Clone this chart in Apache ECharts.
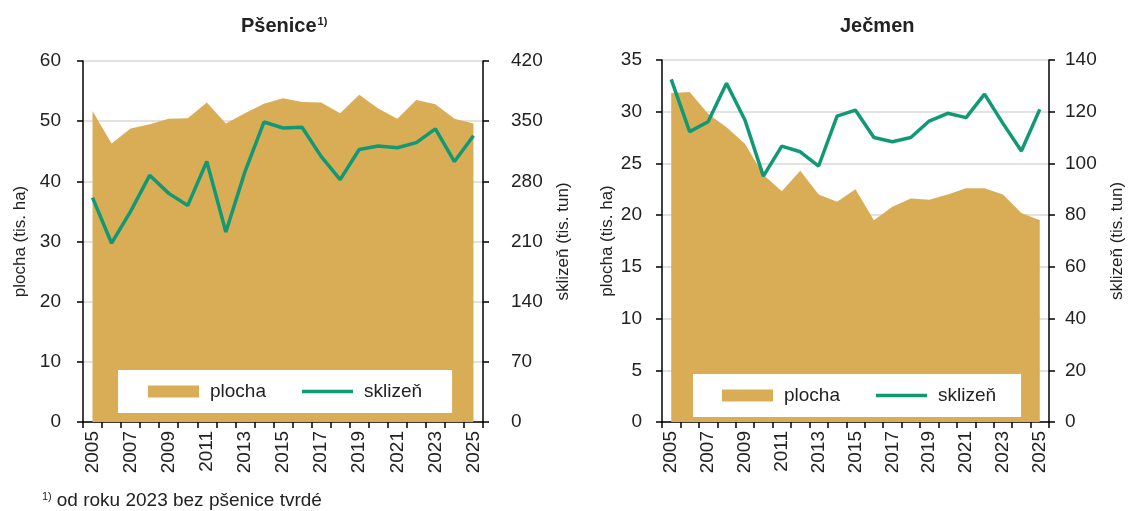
<!DOCTYPE html>
<html>
<head>
<meta charset="utf-8">
<script src="https://cdn.jsdelivr.net/npm/echarts@6/dist/echarts.min.js"></script>
<style>
html,body{margin:0;padding:0;background:#fff;}
#c{width:1131px;height:511px;}
</style>
</head>
<body>
<div id="c"></div>
<script>
const years = ['2005','2006','2007','2008','2009','2010','2011','2012','2013','2014','2015','2016','2017','2018','2019','2020','2021','2022','2023','2024','2025'];
const wheatArea = [51.7,46.3,48.8,49.5,50.4,50.5,53.1,49.6,51.3,52.9,53.8,53.2,53.1,51.3,54.4,52.1,50.4,53.5,52.8,50.4,49.6];
const wheatHarvest = [261,208,245,287,266,252,303,221,291,349,342,343,309,282,317,321,319,325,341,303,333];
const barleyArea = [31.8,31.9,29.8,28.5,26.9,23.9,22.3,24.3,22.0,21.3,22.5,19.5,20.8,21.6,21.5,22.0,22.6,22.6,22.0,20.2,19.5];
const barleyHarvest = [132.5,112.3,116.1,131,116.8,95.1,106.7,104.5,99.0,118.3,120.6,110,108.4,110,116.4,119.4,117.7,126.8,115.5,104.8,120.9];
const seriesNames = ['plocha','sklizeň'];
const titles = ['Pšenice','Ječmen'];
const axisNames = ['plocha (tis. ha)','sklizeň (tis. tun)'];
const footnote = 'od roku 2023 bez pšenice tvrdé';

const AREA = '#d9ad56';
const GREEN = '#119874';
const FONT = 'Liberation Sans, Arial, sans-serif';
const TXT = '#222';

function xAx(i){
  return {
    type:'category', gridIndex:i, data:years, boundaryGap:true,
    axisLine:{show:true,lineStyle:{color:'#000',width:1.5}},
    axisTick:{show:true,interval:0,length:6,lineStyle:{color:'#000',width:1.5}},
    axisLabel:{interval:1,rotate:90,fontSize:19,color:TXT,fontFamily:FONT,margin:9},
    splitLine:{show:false}
  };
}
function yAx(i,pos,max,step,name,gap,lmargin,split){
  return {
    type:'value', gridIndex:i, position:pos, min:0, max:max, interval:step,
    name:name, nameLocation:'middle', nameGap:gap, nameRotate:90,
    nameTextStyle:{fontSize:17,color:TXT,fontFamily:FONT},
    axisLine:{show:true,lineStyle:{color:'#000',width:1.5}},
    axisTick:{show:true,length:6,lineStyle:{color:'#000',width:1.5}},
    axisLabel:{fontSize:19,color:TXT,fontFamily:FONT,margin:lmargin},
    splitLine:{show:split,lineStyle:{color:'#d9d9d9',width:1.5}}
  };
}
function legend(left,top,pad){
  return {
    left:left, top:top, padding:pad, itemGap:36, itemWidth:51, itemHeight:12,
    backgroundColor:'#fff', selectedMode:false, symbolKeepAspect:true,
    textStyle:{fontSize:19,color:TXT,fontFamily:FONT,padding:[0,0,0,6]},
    data:[
      {name:seriesNames[0],icon:'rect',itemStyle:{color:AREA}},
      {name:seriesNames[1],icon:'path://M0,0 H51 V3.5 H0 Z',itemStyle:{color:GREEN}}
    ]
  };
}
function areaS(x,y,d){
  return {name:seriesNames[0],type:'line',xAxisIndex:x,yAxisIndex:y,data:d,symbol:'none',
    lineStyle:{width:0,color:AREA},itemStyle:{color:AREA},areaStyle:{color:AREA,opacity:1},z:2,animation:false};
}
function lineS(x,y,d){
  return {name:seriesNames[1],type:'line',xAxisIndex:x,yAxisIndex:y,data:d,symbol:'none',
    lineStyle:{width:3.5,color:GREEN},itemStyle:{color:GREEN},z:3,animation:false};
}

const chart = echarts.init(document.getElementById('c'),null,{renderer:'canvas'});
chart.setOption({
  animation:false,
  backgroundColor:'#fff',
  title:[
    {text:'{t|'+titles[0]+'}{s|1)}',left:236,top:11,textStyle:{rich:{t:{fontSize:20,fontWeight:'bold',color:TXT,fontFamily:FONT},s:{fontSize:11,fontWeight:'bold',color:TXT,fontFamily:FONT,verticalAlign:'top',padding:[0,0,6,1]}}}},
    {text:'{t|'+titles[1]+'}',left:835,top:11,textStyle:{rich:{t:{fontSize:20,fontWeight:'bold',color:TXT,fontFamily:FONT}}}},
    {text:'{s|1)} {t|'+footnote+'}',left:37,top:486,textStyle:{fontWeight:'normal',rich:{t:{fontSize:19,fontWeight:'normal',color:TXT,fontFamily:FONT},s:{fontSize:11,fontWeight:'normal',color:TXT,fontFamily:FONT,padding:[0,0,8,0]}}}}
  ],
  grid:[
    {left:83,right:648,top:61,bottom:89},
    {left:662,right:82,top:60,bottom:89}
  ],
  xAxis:[xAx(0),xAx(1)],
  yAxis:[
    yAx(0,'left',60,10,axisNames[0],54,22,true),
    yAx(0,'right',420,70,axisNames[1],72,28,false),
    yAx(1,'left',35,5,axisNames[0],46,20,true),
    yAx(1,'right',140,20,axisNames[1],60,16,false)
  ],
  legend:[
    legend(118,370,[12,30,12,30]),
    legend(693,374,[12,25,12,29])
  ],
  series:[
    areaS(0,0,wheatArea), lineS(0,1,wheatHarvest),
    areaS(1,2,barleyArea), lineS(1,3,barleyHarvest)
  ]
});
</script>
</body>
</html>
